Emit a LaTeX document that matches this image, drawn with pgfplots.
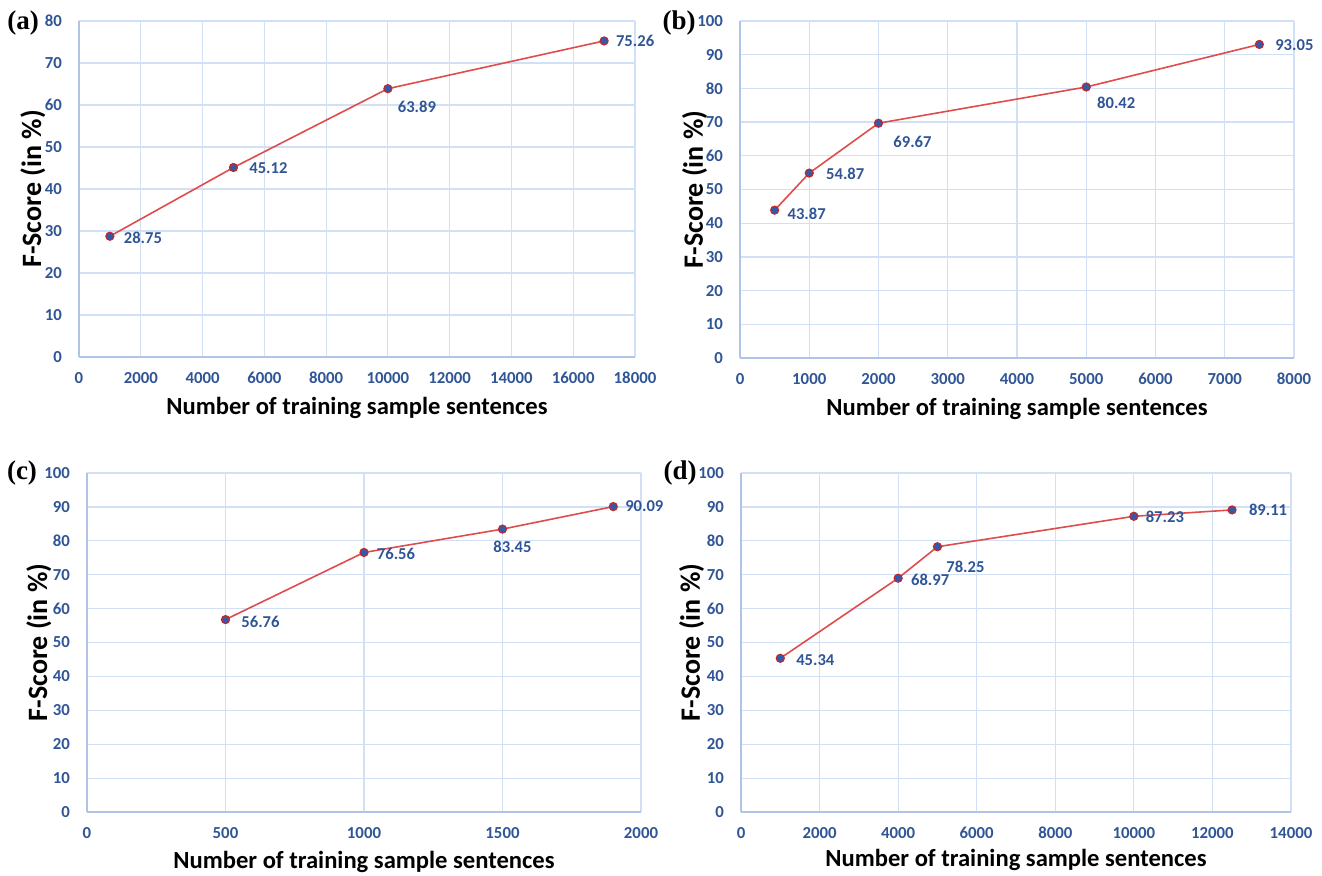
\documentclass[border=0pt]{standalone}
\usepackage{pgfplots}
\pgfplotsset{compat=1.18}
\usepackage{pgfplotstable}
\usepackage{fontspec}
\setmainfont{Carlito}
\newfontfamily\serifb{Liberation Serif}
\definecolor{tickblue}{RGB}{47,85,151}
\definecolor{gridblue}{RGB}{210,224,245}
\definecolor{axisblue}{RGB}{175,196,231}
\definecolor{linered}{RGB}{224,76,76}
\definecolor{markblue}{RGB}{50,90,170}
\definecolor{markred}{RGB}{192,40,45}

\pgfplotstableread{
x y dx dy lab
1000 28.75 16.5 -1 28.75
5000 45.12 17.5 -0.5 45.12
10000 63.89 14.5 -9 63.89
17000 75.26 15.5 0 75.26
}\dataA
\pgfplotstableread{
x y dx dy lab
500 43.87 16 -2 43.87
1000 54.87 18 -0.5 54.87
2000 69.67 17 -9.5 69.67
5000 80.42 15 -8 80.42
7500 93.05 17.5 -0.5 93.05
}\dataB
\pgfplotstableread{
x y dx dy lab
500 56.76 17.5 -1 56.76
1000 76.56 16 -0.5 76.56
1500 83.45 5 -9 83.45
1900 90.09 15.5 0 90.09
}\dataC
\pgfplotstableread{
x y dx dy lab
1000 45.34 17.5 -1 45.34
4000 68.97 16 -1 68.97
5000 78.25 14 -10 78.25
10000 87.23 15.5 -0.5 87.23
12500 89.11 18 0 89.11
}\dataD

\pgfplotsset{
  panel/.style={
    scale only axis,
    scaled ticks=false,
    axis x line*=bottom, axis y line*=left,
    axis line style={draw=axisblue, line width=0.9pt, -},
    grid=major,
    major grid style={draw=gridblue, line width=0.6pt},
    major tick length=0pt,
    tick label style={font=\fontsize{8.4}{9}\selectfont\bfseries, text=tickblue},
    /pgf/number format/assume math mode=true,
    /pgf/number format/1000 sep={},
    xticklabel style={yshift=-4pt},
    yticklabel style={xshift=-5pt},
    xlabel style={font=\fontsize{12.3}{14}\selectfont\bfseries, text=black},
    ylabel style={font=\fontsize{14}{16}\selectfont\bfseries, text=black},
    xlabel={Number of training sample sentences},
    ylabel={F-Score (in \%)},
    ymin=0, clip=false,
  },
  series/.style={
    draw=linered, line width=0.8pt,
    mark=*, mark size=2pt,
    mark options={fill=markblue, draw=markred, line width=0.6pt},
    point meta=explicit symbolic,
    nodes near coords,
    visualization depends on={\thisrow{dx} \as \dx},
    visualization depends on={\thisrow{dy} \as \dy},
    every node near coord/.append style={anchor=center, xshift=\dx, yshift=\dy,
      font=\fontsize{8.3}{9}\selectfont\bfseries, text=tickblue, inner sep=0pt},
  },
}

\begin{document}
\begin{tikzpicture}
\path[use as bounding box] (0,0) rectangle (661pt,437.5pt);

% (a)
\begin{axis}[panel, at={(39.5pt,259pt)}, anchor=south west,
  width=278pt, height=168pt,
  xmin=0, xmax=18000, xtick distance=2000,
  ymax=80, ytick distance=10,
  xlabel style={at={(axis description cs:0.5,-0.152)}, anchor=center},
  ylabel style={at={(axis description cs:-0.083,0.5)}, anchor=center}]
\addplot[series] table[x=x, y=y, meta=lab] {\dataA};
\end{axis}

% (b)
\begin{axis}[panel, at={(370pt,258.5pt)}, anchor=south west,
  width=277pt, height=168.5pt,
  xmin=0, xmax=8000, xtick distance=1000,
  ymax=100, ytick distance=10,
  xlabel style={at={(axis description cs:0.5,-0.151)}, anchor=center},
  ylabel style={at={(axis description cs:-0.082,0.5)}, anchor=center}]
\addplot[series] table[x=x, y=y, meta=lab] {\dataB};
\end{axis}

% (c)
\begin{axis}[panel, at={(43.5pt,31.5pt)}, anchor=south west,
  width=277pt, height=169.5pt,
  xmin=0, xmax=2000, xtick distance=500,
  ymax=100, ytick distance=10,
  xlabel style={at={(axis description cs:0.5,-0.147)}, anchor=center},
  ylabel style={at={(axis description cs:-0.087,0.5)}, anchor=center}]
\addplot[series] table[x=x, y=y, meta=lab] {\dataC};
\end{axis}

% (d)
\begin{axis}[panel, at={(370.5pt,31.5pt)}, anchor=south west,
  width=275pt, height=169.5pt,
  xmin=0, xmax=14000, xtick distance=2000,
  ymax=100, ytick distance=10,
  xlabel style={at={(axis description cs:0.5,-0.142)}, anchor=center},
  ylabel style={at={(axis description cs:-0.090,0.5)}, anchor=center}]
\addplot[series] table[x=x, y=y, meta=lab] {\dataD};
\end{axis}

\node[font=\serifb\bfseries\fontsize{13.5}{15}\selectfont] at (11.5pt,426pt) {(a)};
\node[font=\serifb\bfseries\fontsize{13.5}{15}\selectfont] at (339.5pt,426pt) {(b)};
\node[font=\serifb\bfseries\fontsize{13.5}{15}\selectfont] at (11pt,201pt) {(c)};
\node[font=\serifb\bfseries\fontsize{13.5}{15}\selectfont] at (340pt,201pt) {(d)};
\end{tikzpicture}
\end{document}
